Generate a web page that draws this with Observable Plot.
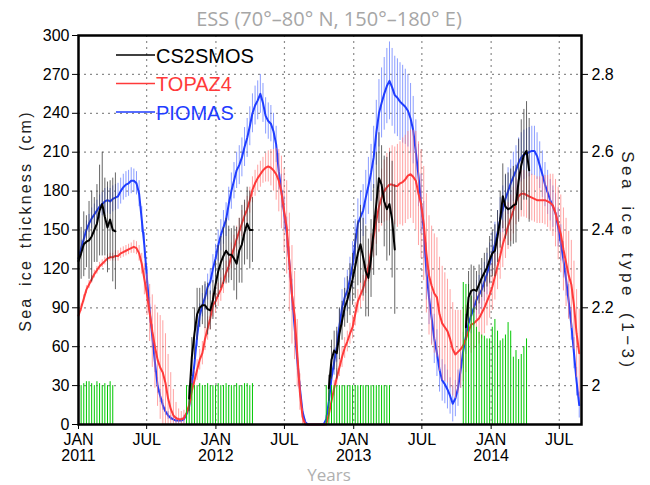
<!DOCTYPE html>
<html>
<head>
<meta charset="utf-8">
<script src="https://cdn.jsdelivr.net/npm/d3@7"></script>
<script src="https://cdn.jsdelivr.net/npm/@observablehq/plot@0.6"></script>
<style>
  body { margin: 0; background: #fff; }
  #chart { width: 650px; height: 485px; }
</style>
</head>
<body>
<div id="chart"></div>
<script>
// Weekly records, week 0 = 1 Jan 2011
const firstWeek = "2011-01-01";
const axisEnd = "2014-08-29";

// PIOMAS mean thickness (cm), weekly
const piomasMean = [
  128,136,143,150,155,159,162,165,168,170,
  172,173,172,174,175,176,180,183,185,186,
  188,188,186,178,158,138,112,88,68,48,
  30,22,15,10,7,5,4,3,3,3,
  4,8,14,30,47,68,84,92,98,106,
  110,120,128,138,146,152,158,170,180,188,
  196,200,206,214,221,230,240,246,250,255,
  248,238,234,232,226,216,195,180,163,148,
  125,100,75,50,28,10,2,0,0,0,
  0,0,0,0,4,18,36,48,60,76,
  90,98,103,112,123,140,155,160,165,175,
  184,194,206,225,240,248,255,261,265,260,
  254,252,249,247,245,242,236,227,210,192,
  170,150,118,98,82,66,55,42,34,31,
  27,22,16,20,28,42,57,68,78,84,
  90,96,100,104,110,116,124,132,139,148,
  158,166,174,180,186,191,196,202,206,208,
  209,210,211,211,207,200,193,185,179,173,
  168,163,152,140,127,112,95,77,55,33,15
];
// PIOMAS spread (half range, cm)
const piomasSpread = [
  5,6,6,7,7,8,8,8,9,9,10,10,10,10,10,10,10,10,10,10,10,9,9,
  10,10,10,10,10,9,8,6,5,4,3,3,2,2,2,2,2,3,4,5,
  6,8,8,9,9,10,10,10,11,11,12,12,13,13,13,14,14,14,15,15,15,15,15,15,
  15,15,15,15,14,14,14,14,14,14,13,13,12,12,12,10,8,5,3,2,
  0,0,0,0,0,0,0,
  3,6,8,10,12,13,14,15,16,17,18,18,19,20,20,21,22,22,24,25,26,27,28,29,30,
  30,30,30,30,30,29,28,27,26,25,24,23,22,22,21,20,19,18,17,16,15,15,14,14,14,14,14,
  14,14,14,14,14,15,15,15,15,16,16,16,17,17,17,18,18,18,18,19,19,19,19,19,19,19,19,
  19,18,18,18,17,17,16,16,15,15,14,14,13,13,12,12,11,10
];

// TOPAZ4 mean thickness (cm), weekly
const topazMean = [
  84,90,97,104,108,112,116,119,122,124,
  126,128,129,129,130,130,132,133,134,135,
  136,137,136,132,124,112,100,86,72,60,
  50,44,40,32,20,12,7,5,4,4,
  5,9,15,26,34,42,50,55,66,74,
  82,92,95,100,104,110,117,122,130,136,
  143,149,155,161,166,173,181,186,190,193,
  196,198,199,198,196,193,188,179,165,152,
  125,100,84,55,25,6,0,0,0,0,
  0,0,0,0,0,8,18,28,36,44,
  52,59,64,70,75,85,95,100,105,112,
  122,133,145,157,168,175,180,183,185,185,
  184,184,186,187,189,192,193,191,188,178,
  170,155,132,115,107,101,98,85,78,75,
  72,66,58,54,56,58,61,66,72,77,
  78,80,82,86,90,95,100,106,114,122,
  130,139,146,153,159,165,172,176,178,178,
  177,176,175,174,173,173,173,173,172,171,
  169,163,155,147,135,125,115,108,92,70,55
];
// TOPAZ4 spread (half range, cm)
const topazSpread = [
  3,3,3,3,3,3,3,3,3,3,3,3,3,3,4,4,4,4,4,4,4,5,5,
  6,8,12,16,22,28,32,36,40,40,38,34,28,20,12,8,6,6,6,7,
  8,8,8,8,9,9,9,9,9,9,9,9,9,9,9,10,10,10,10,10,10,10,10,10,
  10,10,10,10,11,12,14,16,20,24,28,32,36,38,38,34,26,14,6,2,
  0,0,0,0,0,0,0,
  2,4,5,6,7,7,8,8,8,8,9,9,9,10,10,11,12,14,16,18,20,22,24,26,28,
  30,30,32,32,34,34,34,34,36,38,40,42,44,46,46,46,46,46,44,44,42,40,38,36,34,32,30,
  28,26,24,22,20,20,20,20,20,19,18,18,18,18,18,18,18,18,18,18,18,18,18,18,18,18,18,
  18,18,18,18,19,20,22,24,26,28,30,32,34,34,34,34,34,34
];

// CS2SMOS winter seasons: first week index, mean (cm), spread (cm)
const cs2Start = [0, 42, 95, 147];
const cs2Mean = [
  [126,132,139,141,142,145,150,155,165,170,160,152,158,150,149],
  [20,52,70,85,90,92,92,89,88,96,108,118,125,130,134,131,131,128,124,134,139,148,155,150,150],
  [28,50,57,55,70,80,90,96,104,112,122,132,139,129,118,113,128,150,170,190,185,172,166,170,158,135],
  [75,98,103,104,103,108,113,117,121,127,132,134,145,158,176,168,166,167,169,170,188,200,208,211,196]
];
const cs2Spread = [
  [15,20,25,20,30,35,25,30,35,40,30,35,30,40,45],
  [10,15,20,20,15,15,18,20,15,15,18,20,20,22,25,22,20,25,28,25,30,25,28,30,25],
  [10,15,15,20,20,15,15,18,20,20,25,25,30,30,35,30,30,35,40,35,30,35,40,40,45,50],
  [10,20,20,18,15,15,15,15,15,18,18,20,20,22,25,25,28,30,30,30,32,35,35,38,40]
];

// Sea ice type (1-3), weekly per winter season
const typeStart = [0, 41, 94, 146];
const iceType = [
  [2.0,2.0,2.005,2.01,2.01,2.005,2.0,2.01,2.005,2.0,2.005,2.0,2.01,2.0],
  [2.0,2.0,2.005,2.0,2.0,2.005,2.0,2.0,2.005,2.0,2.0,2.0,2.005,2.0,2.0,2.005,2.0,2.0,2.0,2.005,2.0,2.0,2.005,2.005,2.0,2.005],
  [2.0,2.0,2.0,2.0,2.0,2.0,2.0,2.0,2.0,2.0,2.0,2.0,2.0,2.0,2.0,2.0,2.0,2.0,2.0,2.0,2.0,2.0,2.0,2.0,2.0],
  [2.265,2.26,2.26,2.23,2.2,2.15,2.137,2.13,2.127,2.12,2.12,2.15,2.17,2.14,2.115,2.12,2.13,2.162,2.14,2.073,2.09,2.067,2.08,2.1,2.12]
];

const typeTicks = [2, 2.2, 2.4, 2.6, 2.8];
const typeBase = 1.9;          // sea ice type at 0 cm
const typeToCm = t => (t - typeBase) * 300;

const monthTicks = [
  "2011-01-01","2011-07-01","2012-01-01","2012-07-01",
  "2013-01-01","2013-07-01","2014-01-01","2014-07-01"
].map(d => new Date(d));

const DAY = 864e5;
const t0 = +new Date(firstWeek);
const weekDate = i => new Date(t0 + 7 * i * DAY);

const rows = (means, spreads, offset = 0, season = 0) =>
  means.map((m, k) => ({
    date: weekDate(offset + k),
    mean: m,
    lo: Math.max(0, m - spreads[k]),
    hi: m + spreads[k],
    season
  }));

const piomas = rows(piomasMean, piomasSpread);
const topaz = rows(topazMean, topazSpread);
const cs2 = cs2Mean.flatMap((m, s) => rows(m, cs2Spread[s], cs2Start[s], s));
const types = iceType.flatMap((vals, s) =>
  vals.map((t, k) => ({date: weekDate(typeStart[s] + k), cm: typeToCm(t)})));

const tickLabel = d => d.getUTCMonth() === 0 ? `JAN\n${d.getUTCFullYear()}` : "JUL";
const FONT = "Liberation Sans, Arial, sans-serif";

const chart = Plot.plot({
  width: 650,
  height: 485,
  marginLeft: 78,
  marginRight: 69,
  marginTop: 35,
  marginBottom: 61,
  style: {fontFamily: FONT, fontSize: "16px", color: "#000", background: "#fff"},
  x: {type: "utc", domain: [new Date(firstWeek), new Date(axisEnd)]},
  y: {domain: [0, 300]},
  marks: [
    Plot.gridY({ticks: d3.range(30, 300, 30), stroke: "#8c8c8c", strokeOpacity: 1, strokeDasharray: "2,4", strokeWidth: 1.2}),
    Plot.gridX({ticks: monthTicks.slice(1), stroke: "#8c8c8c", strokeOpacity: 1, strokeDasharray: "2,4", strokeWidth: 1.2}),

    // PIOMAS
    Plot.ruleX(piomas, {x: "date", y1: "lo", y2: "hi", stroke: "#5a74ff", strokeOpacity: 0.7, strokeWidth: 1}),
    Plot.line(piomas, {x: "date", y: "mean", stroke: "#1f3dff", strokeWidth: 2}),
    // TOPAZ4
    Plot.ruleX(topaz, {x: "date", y1: "lo", y2: "hi", stroke: "#ff7a7a", strokeOpacity: 0.7, strokeWidth: 1}),
    Plot.line(topaz, {x: "date", y: "mean", stroke: "#ff3a3a", strokeWidth: 2}),
    // sea ice type (right axis)
    Plot.ruleX(types, {x: "date", y1: 0, y2: "cm", stroke: "#00c800", strokeWidth: 1}),
    // CS2SMOS
    Plot.ruleX(cs2, {x: "date", y1: "lo", y2: "hi", stroke: "#333", strokeOpacity: 0.75, strokeWidth: 1}),
    Plot.line(cs2, {x: "date", y: "mean", z: "season", stroke: "#000", strokeWidth: 2}),

    Plot.frame({stroke: "#000", strokeWidth: 2.5}),
    Plot.axisY({ticks: d3.range(0, 301, 30), tickSize: 6, tickPadding: 3, label: null, fontSize: 16}),
    Plot.axisY({anchor: "right", ticks: typeTicks.map(typeToCm), tickFormat: d => String(+(typeBase + d / 300).toFixed(1)),
      tickSize: 6, tickPadding: 4, label: null, fontSize: 16}),
    Plot.axisX({ticks: monthTicks, tickFormat: tickLabel, tickSize: 5, tickPadding: 4, label: null, fontSize: 16, lineHeight: 1.0})
  ]
});

document.getElementById("chart").append(chart);

const svg = d3.select(chart);

// titles and axis names
const labels = svg.append("g").attr("text-anchor", "middle");
labels.append("text").attr("x", 329).attr("y", 26)
  .attr("font-family", "Open Sans, sans-serif").attr("font-size", 20).attr("fill", "#a6a6a6")
  .text("ESS (70°–80° N, 150°–180° E)");
labels.append("text").attr("x", 329).attr("y", 481)
  .attr("font-family", "Open Sans, sans-serif").attr("font-size", 17).attr("fill", "#b0b0b0")
  .text("Years");
labels.append("text").attr("transform", "translate(31,221) rotate(-90)")
  .attr("font-family", FONT).attr("font-size", 16).attr("fill", "#222")
  .attr("letter-spacing", "2.2px").attr("word-spacing", "4px")
  .text("Sea ice thickness (cm)");
labels.append("text").attr("transform", "translate(622,261) rotate(90)")
  .attr("font-family", FONT).attr("font-size", 17).attr("fill", "#222")
  .attr("letter-spacing", "3.5px").attr("word-spacing", "6px")
  .text("Sea ice type (1−3)");

// legend in the upper-left corner of the panel
const legend = [
  {name: "CS2SMOS", color: "#000"},
  {name: "TOPAZ4", color: "#ff3a3a"},
  {name: "PIOMAS", color: "#1f3dff"}
];
const lg = svg.append("g").attr("font-family", FONT).attr("font-size", 20).attr("text-anchor", "start");
legend.forEach((d, i) => {
  const y = 55 + i * 28.5;
  lg.append("line").attr("x1", 116).attr("x2", 155).attr("y1", y).attr("y2", y)
    .attr("stroke", d.color).attr("stroke-width", 1.5);
  lg.append("text").attr("x", 156).attr("y", y + 7.5).attr("fill", d.color).text(d.name);
});
</script>
</body>
</html>
